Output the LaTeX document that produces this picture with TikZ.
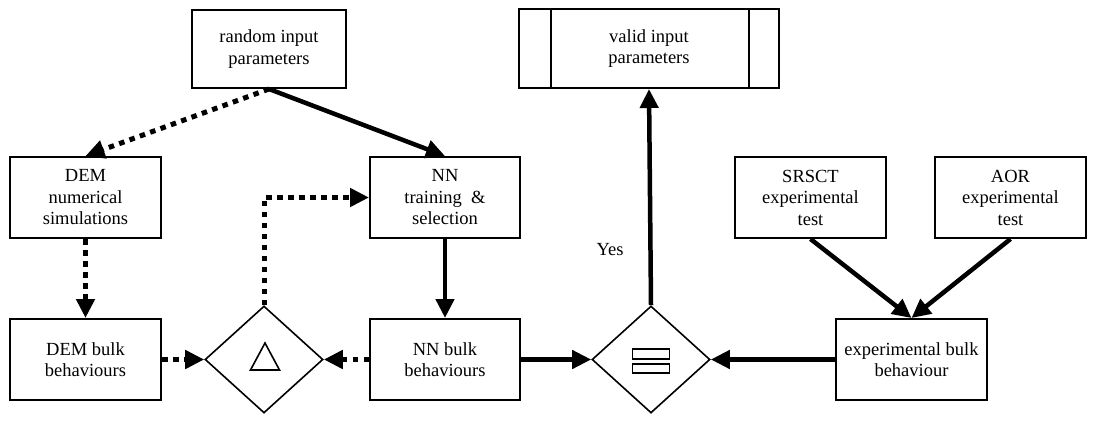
\documentclass[tikz,border=0pt]{standalone}
\usepackage{fontspec}
\setmainfont{Liberation Serif}
\usetikzlibrary{arrows.meta}
\usetikzlibrary{shapes.geometric}
\usetikzlibrary{positioning}
\tikzset{
	boite/.style={draw, line width=2pt, minimum width=151pt, minimum height=81pt,
		align=center, inner sep=2pt, font=\fontsize{18.5}{21.5}\selectfont,
		execute at begin node={\rule{0pt}{19pt}}},
	losange/.style={draw, diamond, line width=1.6pt, minimum width=118pt,
		minimum height=107pt, inner sep=0pt},
	fleche/.style={line width=4.5pt, arrows={-Triangle[length=19pt, width=18pt]}},
	flechePointillee/.style={fleche, line width=5pt, dash pattern=on 5.5pt off 5.5pt}
}
\begin{document}
\begin{tikzpicture}[x=1pt, y=-1pt]
    \useasboundingbox (0,0) rectangle (1097,422);
    % top row
    \node[boite, minimum width=154pt, minimum height=78pt] (alea) at (269,49) {random input\\parameters};
    \node[boite, minimum width=260pt, minimum height=79pt] (valide) at (649,48.5) {valid input\\parameters};
    \draw[line width=1.2pt] ([xshift=33pt]valide.north west) -- ([xshift=33pt]valide.south west);
    \draw[line width=1.2pt] ([xshift=-31pt]valide.north east) -- ([xshift=-31pt]valide.south east);
    % middle row
    \node[boite] (demSim) at (85.5,197.5) {DEM\\numerical\\simulations};
    \node[boite, minimum width=150pt] (nnTrain) at (445,197.5) {NN\\training~~\&\\selection};
    \node[boite] (srsct) at (810.5,197.5) {SRSCT\\experimental\\test};
    \node[boite] (aor) at (1010.5,197.5) {AOR\\experimental\\test};
    \node[font=\fontsize{18.5}{21}\selectfont] (oui) at (610,250) {Yes};
    % bottom row
    \node[boite] (demBulk) at (85.5,359.5) {DEM bulk\\behaviours};
    \node[losange] (delta) at (264,359.5) {};
    \draw[line width=1.6pt, shift={(delta.center)}] (1,-16.5) -- (15.5,10.5) -- (-13.5,10.5) -- cycle;
    \node[boite, minimum width=150pt] (nnBulk) at (445,359.5) {NN bulk\\behaviours};
    \node[losange] (egal) at (651,359.5) {};
    \draw[line width=1.6pt, shift={(egal.center)}] (-18.5,-10.5) rectangle (18.5,-0.5);
    \draw[line width=1.6pt, shift={(egal.center)}] (-18.5,4.5) rectangle (18.5,13.5);
    \node[boite] (expBulk) at (911.5,359.5) {experimental bulk\\behaviour};
    % connectors
    \draw[flechePointillee] (alea.south) -- (demSim.north);
    \draw[fleche] (alea.south) -- (nnTrain.north);
    \draw[flechePointillee] (demSim.south) -- (demBulk.north);
    \draw[flechePointillee] (demBulk.east) -- (delta.west);
    \draw[flechePointillee] (nnBulk.west) -- (delta.east);
    \draw[flechePointillee] (delta.north) |- (nnTrain.west);
    \draw[fleche] (nnTrain.south) -- (nnBulk.north);
    \draw[fleche] (nnBulk.east) -- (egal.west);
    \draw[fleche] (expBulk.west) -- (egal.east);
    \draw[fleche] (egal.north) -- (valide.south);
    \draw[fleche] (srsct.south) -- (expBulk.north);
    \draw[fleche] (aor.south) -- (expBulk.north);
\end{tikzpicture}
\end{document}
